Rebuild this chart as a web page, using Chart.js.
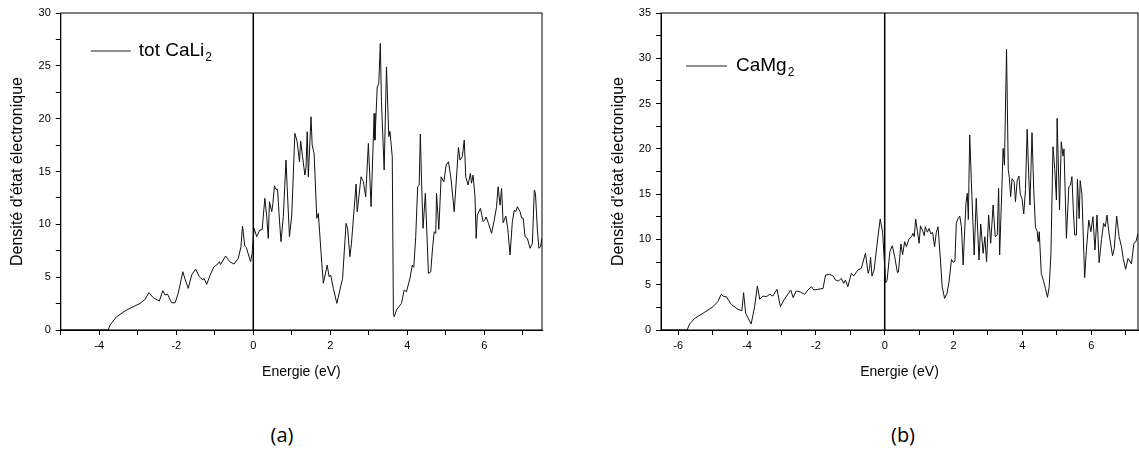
<!DOCTYPE html>
<html>
<head>
<meta charset="utf-8">
<script src="https://cdn.jsdelivr.net/npm/chart.js@4.4.1/dist/chart.umd.min.js"></script>
<style>
  body { margin: 0; background: #fff; width: 1139px; height: 456px; position: relative; overflow: hidden; }
  canvas { position: absolute; top: 0; }
  #chart-a { left: 0; }
  #chart-b { left: 570px; }
  .caption { position: absolute; top: 421px; font: 20px "Open Sans", sans-serif; color: #000; transform: translateX(-50%); }
</style>
</head>
<body>
<canvas id="chart-a" width="560" height="400"></canvas>
<canvas id="chart-b" width="569" height="400"></canvas>
<div class="caption" style="left:282px">(a)</div>
<div class="caption" style="left:903px">(b)</div>
<script>
// (a) total DOS of CaLi2
const energyA = [-5, -3.77, -3.72, -3.55, -3.29, -2.94, -2.81, -2.71, -2.60, -2.44, -2.35, -2.29, -2.23, -2.12, -2.03, -1.95,
  -1.83, -1.78, -1.69, -1.60, -1.50, -1.40, -1.31, -1.28, -1.21, -1.12, -1.02, -0.95, -0.88, -0.85, -0.72, -0.61, -0.50,
  -0.39, -0.32, -0.28, -0.22, -0.18, -0.07, -0.03, 0.02, 0.09, 0.17, 0.23, 0.30, 0.35, 0.39, 0.42, 0.48, 0.51, 0.55, 0.59,
  0.63, 0.68, 0.72, 0.78, 0.85, 0.88, 0.94, 1.00, 1.08, 1.14, 1.20, 1.23, 1.28, 1.34, 1.37, 1.40, 1.43, 1.50, 1.53, 1.58,
  1.65, 1.69, 1.78, 1.82, 1.92, 1.97, 2.01, 2.08, 2.17, 2.25, 2.32, 2.41, 2.45, 2.51, 2.55, 2.67, 2.70, 2.80, 2.86, 2.92,
  2.99, 3.06, 3.14, 3.16, 3.22, 3.26, 3.30, 3.33, 3.40, 3.46, 3.52, 3.55, 3.61, 3.64, 3.66, 3.72, 3.78, 3.85, 3.92, 3.98,
  4.07, 4.13, 4.17, 4.22, 4.27, 4.31, 4.34, 4.37, 4.41, 4.47, 4.55, 4.61, 4.66, 4.70, 4.74, 4.76, 4.82, 4.88, 4.95, 5.01,
  5.07, 5.14, 5.22, 5.33, 5.37, 5.43, 5.48, 5.52, 5.58, 5.64, 5.67, 5.71, 5.76, 5.79, 5.82, 5.90, 5.97, 6.01, 6.05, 6.11,
  6.19, 6.26, 6.32, 6.36, 6.41, 6.45, 6.49, 6.56, 6.61, 6.67, 6.73, 6.78, 6.82, 6.86, 6.93, 6.97, 7.01, 7.06, 7.12, 7.19,
  7.25, 7.30, 7.33, 7.38, 7.42, 7.46, 7.5];
const dosA = [0, 0, 0.47, 1.26, 1.89, 2.52, 2.9, 3.53, 3.06, 2.74, 3.72, 3.31, 3.4, 2.58, 2.58, 3.47,
  5.52, 4.89, 3.94, 5.2, 5.77, 5.04, 4.73, 4.89, 4.32, 5.2, 5.99, 6.15, 6.46, 6.2, 7.0, 6.46, 6.24,
  6.78, 7.88, 9.84, 7.95, 7.8, 6.46, 7.25, 9.62, 8.83, 9.46, 9.5, 12.46, 10.72, 8.67, 12.14, 11.19, 11.98, 13.65, 13.3,
  13.33, 10.4, 8.36, 10.72, 16.08, 13.56, 8.83, 10.88, 18.61, 17.82, 15.92, 17.88, 16.4, 14.66, 15.4, 18.77, 14.5, 20.18, 17.5, 16.7,
  10.57, 11.04, 6.3, 4.42, 6.15, 5.04, 5.2, 3.94, 2.52, 3.78, 4.89, 10.09, 9.62, 6.94, 8.2, 13.81, 11.19, 14.5, 14.03, 12.61,
  17.66, 11.67, 20.5, 17.97, 23.02, 23.3, 27.12, 21.6, 15.14, 24.9, 18.3, 18.8, 16.4, 1.58, 1.26, 1.89, 2.2, 2.52, 3.78, 3.62,
  4.89, 6.15, 5.93, 8.83, 13.56, 13.7, 18.54, 14.19, 9.62, 12.93, 5.36, 5.5, 7.88, 9.3, 9.15, 12.93, 9.52, 14.5, 14.03, 15.61,
  15.92, 14.19, 11.19, 17.28, 16.08, 16.4, 17.97, 14.5, 13.72, 14.82, 13.9, 14.66, 12.61, 8.67, 10.88, 11.51, 10.25, 10.4, 10.7, 10.09,
  9.15, 10.4, 11.67, 13.56, 11.82, 13.4, 10.15, 10.78, 9.62, 7.1, 10.25, 11.35, 11.2, 11.67, 11.2, 10.6, 10.6, 8.83, 8.67, 7.73,
  8.2, 13.25, 12.93, 9.46, 7.73, 7.88, 8.67];

// (b) DOS of CaMg2
const energyB = [-6.5, -5.74, -5.67, -5.52, -5.28, -4.99, -4.85, -4.75, -4.67, -4.60, -4.46, -4.26, -4.15, -4.10, -4.04, -3.88,
  -3.78, -3.70, -3.63, -3.54, -3.44, -3.34, -3.25, -3.13, -3.03, -2.93, -2.83, -2.73, -2.66, -2.57, -2.45, -2.33, -2.23,
  -2.13, -2.06, -1.94, -1.79, -1.72, -1.60, -1.50, -1.43, -1.34, -1.26, -1.19, -1.14, -1.07, -0.97, -0.90, -0.78, -0.68,
  -0.56, -0.48, -0.44, -0.41, -0.37, -0.31, -0.19, -0.13, -0.06, -0.03, 0.03, 0.07, 0.15, 0.22, 0.29, 0.37, 0.40, 0.47,
  0.52, 0.58, 0.63, 0.70, 0.78, 0.82, 0.86, 0.90, 0.95, 1.00, 1.04, 1.11, 1.15, 1.18, 1.24, 1.29, 1.34, 1.39, 1.45, 1.50,
  1.55, 1.62, 1.67, 1.74, 1.81, 1.87, 1.94, 1.99, 2.04, 2.08, 2.13, 2.18, 2.23, 2.28, 2.36, 2.40, 2.43, 2.47, 2.52, 2.60,
  2.66, 2.74, 2.79, 2.86, 2.91, 2.96, 3.02, 3.08, 3.15, 3.21, 3.27, 3.31, 3.34, 3.40, 3.44, 3.48, 3.54, 3.59, 3.62, 3.66,
  3.70, 3.76, 3.80, 3.85, 3.90, 3.94, 3.99, 4.04, 4.09, 4.14, 4.19, 4.22, 4.28, 4.33, 4.38, 4.43, 4.46, 4.49, 4.55, 4.62,
  4.67, 4.73, 4.78, 4.83, 4.89, 4.94, 4.99, 5.01, 5.08, 5.13, 5.18, 5.21, 5.28, 5.35, 5.40, 5.44, 5.48, 5.52, 5.57, 5.60,
  5.65, 5.68, 5.73, 5.81, 5.86, 5.93, 5.99, 6.05, 6.11, 6.17, 6.23, 6.30, 6.36, 6.41, 6.46, 6.52, 6.62, 6.67, 6.74, 6.81,
  6.88, 6.93, 7.00, 7.07, 7.12, 7.17, 7.24, 7.30, 7.36];
const dosB = [0, 0, 0.66, 1.29, 1.84, 2.57, 3.13, 3.94, 3.68, 3.68, 2.83, 2.28, 2.13, 4.12, 1.84, 0.66,
  2.57, 4.86, 3.39, 3.75, 3.68, 3.94, 3.75, 4.49, 2.57, 3.31, 3.86, 4.42, 3.57, 4.31, 4.2, 3.94, 4.42,
  4.78, 4.42, 4.49, 4.6, 6.07, 6.15, 5.97, 5.52, 5.41, 5.7, 5.15, 5.5, 4.78, 6.26, 5.97, 6.62, 6.81,
  8.47, 6.26, 6.8, 8.03, 5.96, 6.6, 10.49, 12.26, 10.8, 8.83, 5.22, 5.5, 8.65, 9.31, 8.1, 6.33, 6.4, 9.5,
  8.3, 9.75, 9.2, 10.01, 10.3, 10.67, 10.3, 12.26, 10.9, 9.57, 11.5, 10.9, 10.4, 11.4, 10.8, 11.2, 10.6, 10.8, 9.2, 10.8,
  11.4, 7.73, 4.78, 3.5, 4.05, 5.33, 7.8, 7.47, 7.6, 11.78, 12.3, 12.58, 11.4, 7.18, 13.99, 15.09, 12.2, 21.53, 16.2, 8.28,
  14.54, 7.73, 11.7, 8.47, 10.3, 7.55, 12.7, 9.57, 13.8, 10.3, 10.5, 15.64, 8.28, 15.1, 20.05, 18.2, 31.0, 17.7, 16.86, 14.72,
  16.7, 16.38, 14.17, 16.5, 17.0, 15.0, 14.5, 12.81, 15.5, 22.16, 16.5, 13.8, 21.79, 15.5, 11.34, 10.9, 9.75, 10.85, 6.26, 5.33,
  4.6, 3.61, 4.78, 8.47, 20.24, 17.85, 14.35, 23.37, 13.25, 20.79, 19.2, 20.0, 10.12, 15.82, 16.0, 16.93, 13.3, 10.49, 10.49, 16.64,
  12.3, 16.5, 15.0, 5.78, 8.8, 12.14, 10.85, 12.51, 8.83, 12.7, 7.43, 10.0, 11.78, 11.4, 12.7, 10.6, 8.2, 9.0, 12.58, 10.3,
  9.2, 7.9, 6.7, 7.9, 7.6, 7.3, 9.57, 9.75, 10.67];

const FONT = '"Liberation Sans", Arial, sans-serif';

// box round the plot + the little legend inside it
const framePlugin = {
  id: 'frame',
  afterDatasetsDraw(chart, args, opts) {
    const { ctx, chartArea: a } = chart;
    ctx.save();
    ctx.strokeStyle = '#000';
    ctx.lineWidth = 1;
    ctx.strokeRect(a.left, a.top, a.right - a.left, a.bottom - a.top);

    const y = a.top + opts.y;
    ctx.strokeStyle = '#222';
    ctx.beginPath();
    ctx.moveTo(a.left + opts.x1, y);
    ctx.lineTo(a.left + opts.x2, y);
    ctx.stroke();

    ctx.fillStyle = '#000';
    ctx.textBaseline = 'middle';
    ctx.font = '19px ' + FONT;
    ctx.fillText(opts.text, a.left + opts.tx, y);
    const w = ctx.measureText(opts.text).width;
    ctx.font = '12px ' + FONT;
    ctx.fillText(opts.sub, a.left + opts.tx + w + 1, y + 7);
    ctx.restore();
  }
};

function makeChart(id, energy, dos, setup) {
  const points = energy.map((e, i) => ({ x: e, y: dos[i] }));

  return new Chart(document.getElementById(id), {
    type: 'line',
    data: {
      datasets: [
        { data: points, borderColor: '#111', borderWidth: 1, pointRadius: 0, tension: 0 },
        // Fermi level
        { data: [{ x: 0, y: 0 }, { x: 0, y: setup.yMax }], borderColor: '#000', borderWidth: 1.5, pointRadius: 0 }
      ]
    },
    options: {
      responsive: false,
      animation: false,
      layout: { padding: setup.padding },
      plugins: {
        legend: { display: false },
        tooltip: { enabled: false },
        frame: setup.legend
      },
      scales: {
        x: {
          type: 'linear',
          min: setup.xMin,
          max: setup.xMax,
          afterFit: (s) => { s.height = 70; },
          ticks: {
            stepSize: 1, includeBounds: false, autoSkip: false, maxRotation: 0, padding: 4,
            color: '#000', font: { family: FONT, size: 11 },
            callback: (v) => (v % 2 === 0 ? v : '')
          },
          grid: { drawOnChartArea: false, tickLength: 5, color: '#000' },
          border: { color: '#000' },
          title: {
            display: true, text: 'Energie (eV)', color: '#000',
            font: { family: FONT, size: 14 }, padding: { top: 0, bottom: 19 }
          }
        },
        y: {
          min: 0,
          max: setup.yMax,
          afterFit: (s) => { s.width = setup.yWidth; },
          ticks: {
            stepSize: 2.5, includeBounds: false, padding: 5,
            color: '#000', font: { family: FONT, size: 11 },
            callback: (v) => (v % 5 === 0 ? v : '')
          },
          grid: { drawOnChartArea: false, tickLength: 5, color: '#000' },
          border: { color: '#000' },
          title: {
            display: true, text: "Densité d'état électronique", color: '#000',
            font: { family: FONT, size: 16 }, padding: { top: 8, bottom: 0 }
          }
        }
      }
    },
    plugins: [framePlugin]
  });
}

makeChart('chart-a', energyA, dosA, {
  xMin: -5, xMax: 7.5, yMax: 30, yWidth: 60.8,
  padding: { left: 0, right: 18, top: 13, bottom: 0 },
  legend: { x1: 30, x2: 70, y: 38, tx: 78, text: 'tot CaLi', sub: '2' }
});

makeChart('chart-b', energyB, dosB, {
  xMin: -6.5, xMax: 7.36, yMax: 35, yWidth: 60,
  padding: { left: 31, right: 1, top: 13, bottom: 0 },
  legend: { x1: 25, x2: 66, y: 53, tx: 75, text: 'CaMg', sub: '2' }
});
</script>
</body>
</html>
